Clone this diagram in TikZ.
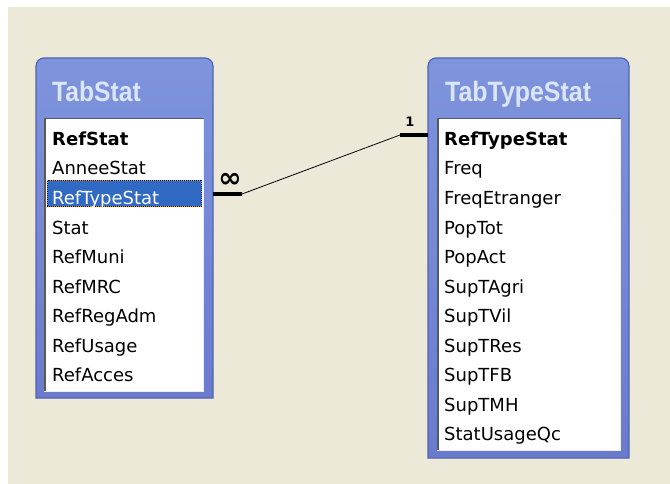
\documentclass[tikz,border=0pt]{standalone}
\usepackage{fontspec}
\setmainfont{DejaVu Sans}
\newfontfamily\titlefont{Liberation Sans}
\definecolor{bgbeige}{HTML}{ECE9D8}
\definecolor{frameblue}{HTML}{6A7BCE}
\definecolor{frametop}{HTML}{7E94DC}
\definecolor{frameedge}{HTML}{5262B6}
\definecolor{titletext}{HTML}{DCE6FA}
\definecolor{selblue}{HTML}{316AC5}
\definecolor{focusorange}{HTML}{E0A040}
\tikzset{
  fieldtext/.style={anchor=base west, inner sep=0pt, font=\fontsize{18}{20}\selectfont},
  keytext/.style={fieldtext, font=\fontsize{18}{20}\selectfont\bfseries},
  tabtitle/.style={anchor=base west, inner sep=0pt, text=titletext, font=\titlefont\fontsize{28}{30}\selectfont\bfseries},
  framefill/.style={top color=frametop, bottom color=frameblue, draw=frameedge, line width=1.2pt},
  joinbar/.style={line width=4pt, black},
  joinline/.style={line width=0.8pt, black},
  cardlabel/.style={inner sep=0pt, font=\fontsize{13}{14}\selectfont\bfseries}
}
\begin{document}
\begin{tikzpicture}[x=1pt,y=-1pt]
\useasboundingbox (0,0) rectangle (670,484);
\fill[white] (0,0) rectangle (670,484);
\fill[bgbeige] (8,7) rectangle (670,484);

% ---------- TabStat ----------
\path[framefill] (36,398) -- (36,66) arc[start angle=180,end angle=270,radius=8] -- (205,58) arc[start angle=270,end angle=360,radius=8] -- (213,398) -- cycle;
\fill[white] (44,118) rectangle (204,392);
\draw[gray!70!black, line width=1.5pt] (44.75,392) -- (44.75,118.75) -- (204,118.75);
\draw[white!85!gray, line width=1pt] (44,391.5) -- (203.5,391.5) -- (203.5,119);
\node[tabtitle] (t1title) at (52,102) {\scalebox{0.88}[1]{TabStat}};

\fill[selblue] (47,180) rectangle (202,207);
\draw[focusorange, line width=1pt, dash pattern=on 1pt off 1pt] (47.5,180.5) rectangle (201.5,206.5);
\draw[black, line width=1pt, dash pattern=on 1pt off 1pt, dash phase=1pt] (47.5,180.5) rectangle (201.5,206.5);

\node[keytext] (s1) at (52,145.5) {RefStat};
\node[fieldtext] (s2) at (52,175) {AnneeStat};
\node[fieldtext, text=white] (s3) at (52,204.5) {RefTypeStat};
\node[fieldtext] (s4) at (52,234) {Stat};
\node[fieldtext] (s5) at (52,263.5) {RefMuni};
\node[fieldtext] (s6) at (52,293) {RefMRC};
\node[fieldtext] (s7) at (52,322.5) {RefRegAdm};
\node[fieldtext] (s8) at (52,352) {RefUsage};
\node[fieldtext] (s9) at (52,381.5) {RefAcces};

% ---------- TabTypeStat ----------
\path[framefill] (428,458) -- (428,66) arc[start angle=180,end angle=270,radius=8] -- (621,58) arc[start angle=270,end angle=360,radius=8] -- (629,458) -- cycle;
\fill[white] (437,118) rectangle (621,451);
\draw[gray!70!black, line width=1.5pt] (437.75,451) -- (437.75,118.75) -- (621,118.75);
\draw[white!85!gray, line width=1pt] (437,450.5) -- (620.5,450.5) -- (620.5,119);
\node[tabtitle] (t2title) at (445,102) {\scalebox{0.89}[1]{TabTypeStat}};

\node[keytext] (p1) at (444,145.5) {RefTypeStat};
\node[fieldtext] (p2) at (444,175) {Freq};
\node[fieldtext] (p3) at (444,204.5) {FreqEtranger};
\node[fieldtext] (p4) at (444,234) {PopTot};
\node[fieldtext] (p5) at (444,263.5) {PopAct};
\node[fieldtext] (p6) at (444,293) {SupTAgri};
\node[fieldtext] (p7) at (444,322.5) {SupTVil};
\node[fieldtext] (p8) at (444,352) {SupTRes};
\node[fieldtext] (p9) at (444,381.5) {SupTFB};
\node[fieldtext] (p10) at (444,411) {SupTMH};
\node[fieldtext] (p11) at (444,440.5) {StatUsageQc};

% ---------- relationship ----------
\coordinate (lend) at (213,194);
\coordinate (lbar) at (242,194);
\coordinate (rbar) at (400,135);
\coordinate (rend) at (428,135);
\draw[joinbar] (lend) -- (lbar);
\draw[joinbar] (rbar) -- (rend);
\draw[joinline] (lbar) -- (rbar);
\node[cardlabel, font=\fontsize{28}{28}\selectfont\bfseries] (many) at (230,180) {∞};
\node[cardlabel] (one) at (410,122) {1};
\end{tikzpicture}
\end{document}
